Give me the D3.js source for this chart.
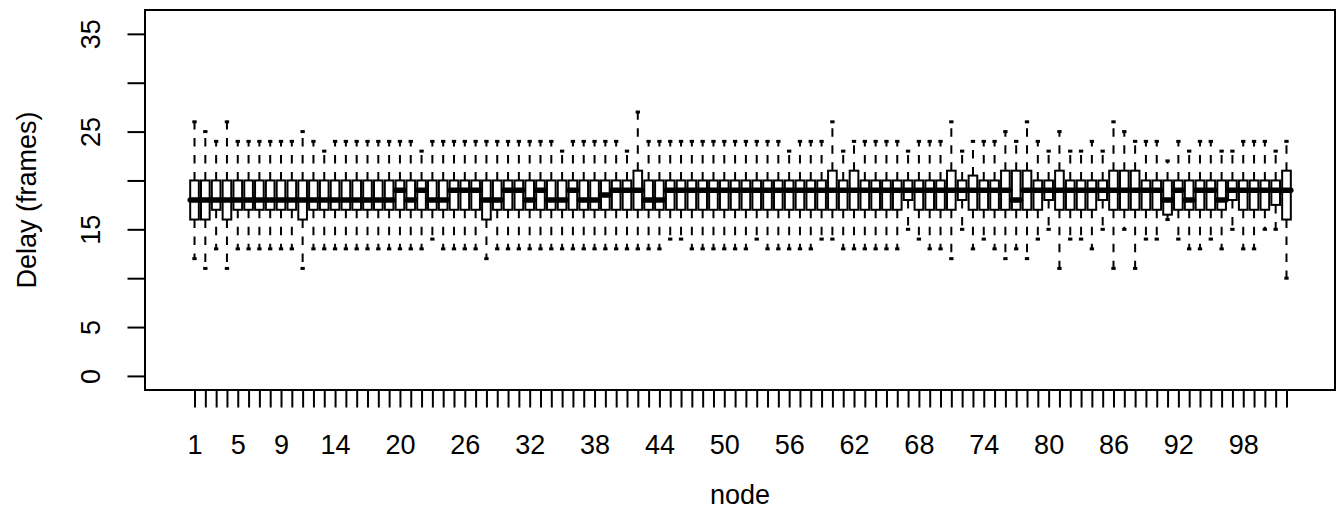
<!DOCTYPE html>
<html>
<head>
<meta charset="utf-8">
<script src="https://cdn.jsdelivr.net/npm/d3@7"></script>
<style>
  body { margin: 0; background: #fff; }
  svg { display: block; font-family: "Liberation Sans", Arial, Helvetica, sans-serif; }
</style>
</head>
<body>
<div id="chart"></div>
<script>
// one box per node, stats (frames)
const nodes = d3.range(1, 103);

const whiskerLow = [
  12, 11, 13, 11, 13, 13, 13, 13, 13, 13,
  11, 13, 13, 13, 13, 13, 13, 13, 13, 13,
  13, 13, 14, 13, 13, 13, 13, 12, 13, 13,
  13, 13, 13, 13, 13, 13, 13, 13, 13, 13,
  13, 13, 13, 13, 14, 14, 13, 13, 13, 13,
  13, 13, 14, 13, 13, 13, 13, 13, 14, 14,
  13, 13, 13, 13, 13, 13, 15, 14, 13, 13,
  12, 15, 13, 14, 13, 12, 13, 12, 14, 15,
  11, 14, 14, 13, 15, 11, 15, 11, 14, 14,
  16, 14, 13, 13, 14, 13, 15, 13, 13, 15,
  15, 10
];

const lowerHinge = [
  16, 16, 17, 16, 17, 17, 17, 17, 17, 17,
  16, 17, 17, 17, 17, 17, 17, 17, 17, 17,
  17, 17, 17, 17, 17, 17, 17, 16, 17, 17,
  17, 17, 17, 17, 17, 17, 17, 17, 17, 17,
  17, 17, 17, 17, 17, 17, 17, 17, 17, 17,
  17, 17, 17, 17, 17, 17, 17, 17, 17, 17,
  17, 17, 17, 17, 17, 17, 18, 17, 17, 17,
  17, 18, 17, 17, 17, 17, 17, 17, 17, 18,
  17, 17, 17, 17, 18, 17, 17, 17, 17, 17,
  16.5, 17, 17, 17, 17, 17, 18, 17, 17, 17,
  17.5, 16
];

const medians = [
  18, 18, 18, 18, 18, 18, 18, 18, 18, 18,
  18, 18, 18, 18, 18, 18, 18, 18, 18, 19,
  18, 19, 18, 18, 19, 19, 19, 18, 18, 19,
  19, 18, 19, 18, 18, 19, 18, 18, 18.5, 19,
  19, 19, 18, 18, 19, 19, 19, 19, 19, 19,
  19, 19, 19, 19, 19, 19, 19, 19, 19, 19,
  19, 19, 19, 19, 19, 19, 19, 19, 19, 19,
  19, 19, 19, 19, 19, 19, 18, 19, 19, 19,
  19, 19, 19, 19, 19, 19, 19, 19, 19, 19,
  18, 19, 18, 19, 19, 18, 19, 19, 19, 19,
  19, 19
];

const upperHinge = [
  20, 20, 20, 20, 20, 20, 20, 20, 20, 20,
  20, 20, 20, 20, 20, 20, 20, 20, 20, 20,
  20, 20, 20, 20, 20, 20, 20, 20, 20, 20,
  20, 20, 20, 20, 20, 20, 20, 20, 20, 20,
  20, 21, 20, 20, 20, 20, 20, 20, 20, 20,
  20, 20, 20, 20, 20, 20, 20, 20, 20, 21,
  20, 21, 20, 20, 20, 20, 20, 20, 20, 20,
  21, 20, 20.5, 20, 20, 21, 21, 21, 20, 20,
  21, 20, 20, 20, 20, 21, 21, 21, 20, 20,
  20, 20, 20, 20, 20, 20, 20, 20, 20, 20,
  20, 21
];

const whiskerHigh = [
  26, 25, 24, 26, 24, 24, 24, 24, 24, 24,
  25, 24, 23, 24, 24, 24, 24, 24, 24, 24,
  24, 23, 24, 24, 24, 24, 24, 24, 24, 24,
  24, 24, 24, 24, 23, 24, 24, 24, 24, 24,
  23, 27, 24, 24, 24, 24, 24, 24, 24, 24,
  24, 24, 24, 24, 24, 23, 24, 24, 24, 26,
  23, 24, 24, 24, 24, 24, 23, 24, 24, 24,
  26, 23, 24, 24, 24, 25, 24, 26, 24, 23,
  25, 23, 23, 24, 23, 26, 25, 24, 24, 24,
  22, 24, 23, 24, 24, 23, 23, 24, 24, 24,
  23, 24
];

const yTicks = [0, 5, 10, 15, 20, 25, 30, 35];
const yLabels = [0, 5, 15, 25, 35];
const xLabels = [1, 5, 9, 14, 20, 26, 32, 38, 44, 50, 56, 62, 68, 74, 80, 86, 92, 98];

const width = 1336;
const height = 527;
const plot = { left: 145, right: 1335, top: 10, bottom: 390 };
const fontSize = 27;

// R style ranges: 0.5..n+0.5 and 0..36, each padded by 4%
const x = d3.scaleLinear().domain([-3.58, 106.58]).range([plot.left, 1336]);
const y = d3.scaleLinear().domain([-1.44, 37.44]).range([plot.bottom, plot.top]);

const boxHalf = (x(1) - x(0)) * 0.4;
const stapleHalf = boxHalf * 0.5;

const stats = nodes.map((n, i) => ({
  node: n,
  lo: whiskerLow[i],
  q1: lowerHinge[i],
  med: medians[i],
  q3: upperHinge[i],
  hi: whiskerHigh[i]
}));

const svg = d3.select("#chart")
  .append("svg")
  .attr("width", width)
  .attr("height", height);

const boxes = svg.append("g")
  .selectAll("g")
  .data(stats)
  .join("g")
  .attr("transform", d => `translate(${x(d.node)},0)`);

// dashed whiskers, drawn from the hinge outwards
boxes.append("line")
  .attr("y1", d => y(d.q3))
  .attr("y2", d => y(d.hi))
  .attr("stroke", "#000")
  .attr("stroke-width", 2)
  .attr("stroke-dasharray", "8.5,8.5");

boxes.append("line")
  .attr("y1", d => y(d.q1))
  .attr("y2", d => y(d.lo))
  .attr("stroke", "#000")
  .attr("stroke-width", 2)
  .attr("stroke-dasharray", "8.5,8.5");

// staples
boxes.append("line")
  .attr("x1", -stapleHalf)
  .attr("x2", stapleHalf)
  .attr("y1", d => y(d.hi))
  .attr("y2", d => y(d.hi))
  .attr("stroke", "#000")
  .attr("stroke-width", 3);

boxes.append("line")
  .attr("x1", -stapleHalf)
  .attr("x2", stapleHalf)
  .attr("y1", d => y(d.lo))
  .attr("y2", d => y(d.lo))
  .attr("stroke", "#000")
  .attr("stroke-width", 3);

boxes.append("rect")
  .attr("x", -boxHalf)
  .attr("width", boxHalf * 2)
  .attr("y", d => y(d.q3))
  .attr("height", d => y(d.q1) - y(d.q3))
  .attr("fill", "#fff")
  .attr("stroke", "#000")
  .attr("stroke-width", 2);

// thick medians with round ends, they run into each other
svg.append("g")
  .selectAll("line")
  .data(stats)
  .join("line")
  .attr("x1", d => x(d.node) - boxHalf)
  .attr("x2", d => x(d.node) + boxHalf)
  .attr("y1", d => y(d.med))
  .attr("y2", d => y(d.med))
  .attr("stroke", "#000")
  .attr("stroke-width", 5.5)
  .attr("stroke-linecap", "round");

// plot frame
svg.append("rect")
  .attr("x", plot.left)
  .attr("y", plot.top)
  .attr("width", plot.right - plot.left)
  .attr("height", plot.bottom - plot.top)
  .attr("fill", "none")
  .attr("stroke", "#000")
  .attr("stroke-width", 2);

// x axis
svg.append("g")
  .attr("transform", `translate(0,${plot.bottom})`)
  .call(d3.axisBottom(x)
    .tickValues(nodes)
    .tickSize(17.5)
    .tickFormat(d => xLabels.includes(d) ? d : ""))
  .attr("font-size", fontSize)
  .attr("font-family", null)
  .call(g => g.select(".domain").remove())
  .call(g => g.selectAll(".tick line").attr("stroke", "#000").attr("stroke-width", 2))
  .call(g => g.selectAll(".tick text")
    .attr("fill", "#000")
    .attr("y", 64)
    .attr("dy", null));

// y axis, labels turned like R does
svg.append("g")
  .attr("transform", `translate(${plot.left},0)`)
  .call(d3.axisLeft(y)
    .tickValues(yTicks)
    .tickSize(17.5)
    .tickFormat(d => yLabels.includes(d) ? d : ""))
  .attr("font-size", fontSize)
  .attr("font-family", null)
  .call(g => g.select(".domain").remove())
  .call(g => g.selectAll(".tick line").attr("stroke", "#000").attr("stroke-width", 2))
  .call(g => g.selectAll(".tick text")
    .attr("fill", "#000")
    .attr("x", 0)
    .attr("y", -45)
    .attr("dy", null)
    .attr("text-anchor", "middle")
    .attr("transform", "rotate(-90)"));

// axis titles
svg.append("text")
  .attr("x", (plot.left + plot.right) / 2)
  .attr("y", 504)
  .attr("text-anchor", "middle")
  .attr("font-size", fontSize)
  .text("node");

svg.append("text")
  .attr("transform", `translate(36,${(plot.top + plot.bottom) / 2}) rotate(-90)`)
  .attr("text-anchor", "middle")
  .attr("font-size", fontSize)
  .text("Delay (frames)");
</script>
</body>
</html>
